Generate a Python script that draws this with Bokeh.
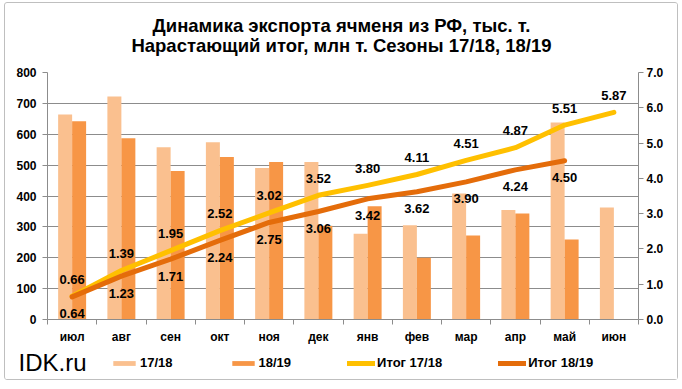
import numpy as np
from bokeh.plotting import figure
from bokeh.layouts import column
from bokeh.models import (Range1d, LinearAxis, FixedTicker, Legend, Label,
                          LegendItem, NumeralTickFormatter)
from bokeh.embed import file_html
from bokeh.resources import INLINE
from bokeh.core.properties import value

# ---- data ----
months = ["июл", "авг", "сен", "окт", "ноя", "дек", "янв", "фев", "мар", "апр", "май", "июн"]
exp_1718 = [664, 722, 558, 574, 491, 510, 278, 305, 408, 355, 638, 363]
exp_1819 = [642, 587, 481, 526, 510, 304, 367, 200, 272, 343, 259]
cum_1718 = [0.66, 1.39, 1.95, 2.52, 3.02, 3.52, 3.80, 4.11, 4.51, 4.87, 5.51, 5.87]
cum_1819 = [0.64, 1.23, 1.71, 2.24, 2.75, 3.06, 3.42, 3.62, 3.90, 4.24, 4.50]
left_ticks = [0, 100, 200, 300, 400, 500, 600, 700, 800]
right_ticks = [0, 1, 2, 3, 4, 5, 6, 7]
title1 = "Динамика экспорта ячменя из РФ, тыс. т."
title2 = "Нарастающий итог, млн т. Сезоны 17/18, 18/19"
site = "IDK.ru"
legend_labels = ["17/18", "18/19", "Итог 17/18", "Итог 18/19"]

C_LIGHT = "#FAC08F"
C_DARK = "#F79646"
C_YEL = "#FFC000"
C_ORG = "#E46C0A"
GRID = "#8C8C8C"
FONT = "Liberation Sans"

W = 672
ML, MR = 42, 39
FW, FH = W - ML - MR, 247
H0 = 61            # title strip
H2 = 33            # legend strip

n = len(months)
xs = np.arange(n) + 0.5
bw = 0.284


def strip(h):
    f = figure(width=W, height=h, x_range=Range1d(ML, W - MR), y_range=Range1d(0, h),
               x_axis_type=None, y_axis_type=None, output_backend="svg",
               toolbar_location=None, min_border=0, min_border_left=ML, min_border_right=MR)
    f.outline_line_color = None
    f.background_fill_color = "white"
    f.border_fill_color = "white"
    f.xgrid.visible = False
    f.ygrid.visible = False
    return f


# ---- title strip ----
top = strip(H0)
top.add_layout(Label(x=336, y=H0 - 22, text=title1, text_align="center", text_baseline="middle",
                     text_font=FONT, text_font_style="bold", text_font_size="18.5px",
                     text_color="black"))
top.add_layout(Label(x=336, y=H0 - 42, text=title2, text_align="center", text_baseline="middle",
                     text_font=FONT, text_font_style="bold", text_font_size="18.5px",
                     text_color="black"))

# ---- main chart ----
p = figure(frame_width=FW, frame_height=FH, x_range=Range1d(0, n),
           y_range=Range1d(0, left_ticks[-1]),
           output_backend="svg", toolbar_location=None,
           min_border_left=ML, min_border_right=MR, min_border_top=8, min_border_bottom=0)
p.outline_line_color = None
p.background_fill_color = "white"
p.border_fill_color = "white"
p.extra_y_ranges = {"cum": Range1d(0, right_ticks[-1])}

p.xgrid.visible = False
p.ygrid.ticker = FixedTicker(ticks=left_ticks)
p.ygrid.grid_line_color = GRID
p.ygrid.grid_line_width = 1

xa = p.xaxis[0]
xa.ticker = FixedTicker(ticks=list(xs), minor_ticks=list(range(n + 1)))
xa.major_label_overrides = {float(x): m for x, m in zip(xs, months)}
xa.major_tick_line_color = None
xa.major_tick_out = 0
xa.major_tick_in = 0
xa.minor_tick_out = 5
xa.minor_tick_in = 0
xa.minor_tick_line_color = GRID
xa.axis_line_color = GRID
xa.major_label_standoff = 5
xa.major_label_text_font = FONT
xa.major_label_text_font_style = "bold"
xa.major_label_text_font_size = "12px"
xa.major_label_text_color = "black"

ya = p.yaxis[0]
ya.ticker = FixedTicker(ticks=left_ticks)
ya.axis_line_color = GRID
ya.major_tick_line_color = GRID
ya.major_tick_out = 5
ya.major_tick_in = 0
ya.minor_tick_line_color = None
ya.major_label_standoff = 6
ya.major_label_text_font = FONT
ya.major_label_text_font_style = "bold"
ya.major_label_text_font_size = "12px"
ya.major_label_text_color = "black"

ra = LinearAxis(y_range_name="cum", ticker=FixedTicker(ticks=right_ticks),
                formatter=NumeralTickFormatter(format="0.0"))
ra.axis_line_color = GRID
ra.major_tick_line_color = GRID
ra.major_tick_out = 5
ra.major_tick_in = 0
ra.minor_tick_line_color = None
ra.major_label_standoff = 3
ra.major_label_text_font = FONT
ra.major_label_text_font_style = "bold"
ra.major_label_text_font_size = "12px"
ra.major_label_text_color = "black"
p.add_layout(ra, "right")

p.vbar(x=xs - bw / 2, top=exp_1718, width=bw, fill_color=C_LIGHT, line_color=None)
p.vbar(x=xs[:len(exp_1819)] + bw / 2, top=exp_1819, width=bw, fill_color=C_DARK, line_color=None)

p.line(x=xs, y=cum_1718, y_range_name="cum", line_color=C_YEL, line_width=5,
       line_cap="round", line_join="round")
p.line(x=xs[:len(cum_1819)], y=cum_1819, y_range_name="cum", line_color=C_ORG, line_width=5,
       line_cap="round", line_join="round")

p.text(x=xs, y=cum_1718, text=[f"{v:.2f}" for v in cum_1718], y_range_name="cum",
       y_offset=-17, text_align="center", text_baseline="middle",
       text_font=value(FONT), text_font_style="bold", text_font_size="13px", text_color="black")
p.text(x=xs[:len(cum_1819)], y=cum_1819, text=[f"{v:.2f}" for v in cum_1819], y_range_name="cum",
       y_offset=17, text_align="center", text_baseline="middle",
       text_font=value(FONT), text_font_style="bold", text_font_size="13px", text_color="black")

# ---- legend strip ----
bot = strip(H2)
site_y = H2 - 11.5
sa = LinearAxis(ticker=FixedTicker(ticks=[site_y]), major_label_overrides={float(site_y): site})
sa.axis_line_color = None
sa.major_tick_line_color = None
sa.minor_tick_line_color = None
sa.major_tick_out = 0
sa.major_tick_in = 0
sa.major_label_standoff = -39
sa.major_label_text_font = FONT
sa.major_label_text_font_style = "normal"
sa.major_label_text_font_size = "24px"
sa.major_label_text_color = "black"
bot.add_layout(sa, "left")

# legend keys: hidden copies of the chart series (styles only)
k1 = bot.vbar(x=xs - bw / 2, top=exp_1718, width=bw, fill_color=C_LIGHT, line_color=None, visible=False)
k2 = bot.vbar(x=xs[:len(exp_1819)] + bw / 2, top=exp_1819, width=bw, fill_color=C_DARK,
              line_color=None, visible=False)
k3 = bot.line(x=xs, y=cum_1718, line_color=C_YEL, line_width=5, line_cap="round", visible=False)
k4 = bot.line(x=xs[:len(cum_1819)], y=cum_1819, line_color=C_ORG, line_width=5, line_cap="round",
              visible=False)
legend = Legend(items=[LegendItem(label=lab, renderers=[r])
                       for lab, r in zip(legend_labels, [k1, k2, k3, k4])],
                orientation="horizontal", location=(63, 9),
                glyph_width=28, glyph_height=6, label_standoff=2, spacing=56,
                padding=0, margin=0, border_line_color=None, background_fill_alpha=0,
                inactive_fill_alpha=0,
                label_height=13, label_text_font=FONT, label_text_font_style="bold",
                label_text_font_size="13px", label_text_color="black")
bot.add_layout(legend)

page = column(top, p, bot, spacing=0,
              styles={"border": "1px solid #bfbfbf", "border-radius": "3px",
                      "margin": "2px 0 0 4px", "background": "white"})

open("out.html", "w").write(file_html(page, INLINE))
